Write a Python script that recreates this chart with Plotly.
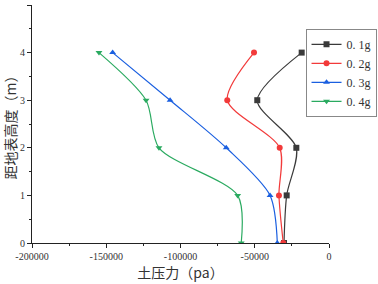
import plotly.graph_objects as go

heights = [0, 1, 2, 3, 4]
s01 = [-30300, -28500, -22000, -48300, -18400]
s02 = [-30800, -33700, -33200, -68500, -50500]
s03 = [-34800, -39700, -69200, -107000, -145700]
s04 = [-59100, -61500, -114500, -123200, -154900]
names = ["0. 1g", "0. 2g", "0. 3g", "0. 4g"]
colors = ["#3a3a3a", "#f23a3a", "#1a5fe0", "#2aaa60"]
symbols = ["square", "circle", "triangle-up", "triangle-down"]

fig = go.Figure()
for vals, nm, c, sym in zip([s01, s02, s03, s04], names, colors, symbols):
    fig.add_trace(go.Scatter(x=vals, y=heights, name=nm, mode="lines+markers",
                             line=dict(color=c, width=1.2, shape="spline", smoothing=0.8),
                             marker=dict(symbol=sym, size=6, color=c)))

serif = "Liberation Serif, DejaVu Serif, serif"
fig.update_layout(
    width=378, height=284,
    margin=dict(l=32, r=49, t=5, b=41, autoexpand=False),
    paper_bgcolor="white", plot_bgcolor="white",
    font=dict(family=serif, size=10, color="#333"),
    showlegend=True,
    legend=dict(x=1.16, y=0.9, xanchor="right", yanchor="top",
                bordercolor="#888", borderwidth=1, bgcolor="white",
                font=dict(family=serif, size=12, color="#333"), tracegroupgap=0,
                itemwidth=30),
    xaxis=dict(range=[-200000, 0], tickvals=[-200000, -150000, -100000, -50000, 0],
               ticktext=["-200000", "-150000", "-100000", "-50000", "0"],
               automargin=False,
               showgrid=False, zeroline=False, showline=True, linecolor="#222", linewidth=1.2,
               ticks="outside", ticklen=4, tickcolor="#222",
               minor=dict(ticks="outside", ticklen=2, dtick=25000, tickcolor="#222"),
               title=dict(text="土压力（pa）", font=dict(family="Noto Sans CJK SC", size=14, color="#333"), standoff=2)),
    yaxis=dict(range=[0, 5], dtick=1, showgrid=False, zeroline=False, showline=True,
               automargin=False,
               linecolor="#222", linewidth=1.2, ticks="outside", ticklen=4, tickcolor="#222",
               minor=dict(ticks="outside", ticklen=2, dtick=0.5, tickcolor="#222"),
               title=dict(text="距地表高度（m）", font=dict(family="Noto Sans CJK SC", size=14, color="#333"), standoff=4)),
)
fig.write_html("out.html", post_script="document.body.style.margin='0';",
               config={"displayModeBar": False})
